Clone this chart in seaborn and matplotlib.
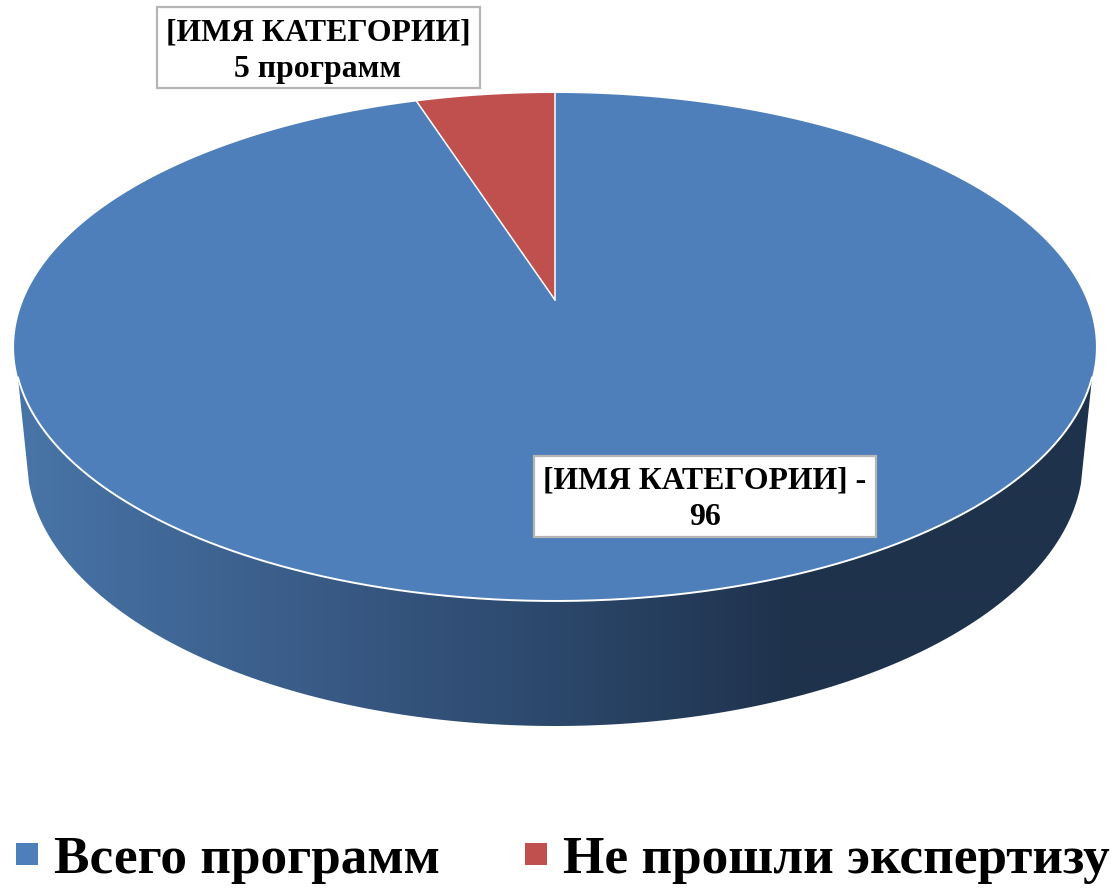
import numpy as np
import matplotlib
matplotlib.use("Agg")
import matplotlib.pyplot as plt
from matplotlib.patches import Polygon, Rectangle, Patch
import seaborn as sns

categories = ["Всего программ", "Не прошли экспертизу"]
values = [96, 5]
box_labels = ["[ИМЯ КАТЕГОРИИ] -\n96", "[ИМЯ КАТЕГОРИИ]\n5 программ"]
colors = ["#4f7fba", "#bf504e"]
side_stops = ["#4875a8", "#3a5c88", "#2c486c", "#1f324c", "#1f324c"]
side_stop_x = [15, 300, 550, 790, 1100]

W, H = 1117, 888
sns.set_theme(style="white")
plt.rcParams["font.family"] = ["Liberation Serif", "DejaVu Serif"]
plt.rcParams["font.weight"] = "bold"

fig = plt.figure(figsize=(W / 100, H / 100), dpi=100)
ax = fig.add_axes([0, 0, 1, 1])
ax.set_xlim(0, W)
ax.set_ylim(H, 0)
ax.axis("off")

# perspective projection of the unit disc onto the page
K, A, APEX_Y, C, CX = 0.185, -189.8, 300.0, 531.6, 555.0


def project(theta):
    """theta: clockwise angle from 12 o'clock, radians."""
    u, v = np.sin(theta), np.cos(theta)
    w = 1 + K * v
    return CX + C * u / w, (A * v + APEX_Y) / w


# wedge angles come from the values; the red slice ends at 12 o'clock
total = sum(values)
red_sweep = 2 * np.pi * values[1] / total
t_blue = np.linspace(0, 2 * np.pi - red_sweep, 500)
t_red = np.linspace(2 * np.pi - red_sweep, 2 * np.pi, 60)
bx, by = project(t_blue)
rx, ry = project(t_red)

# side wall: front part of the top rim + lower rim
t_all = np.linspace(0, 2 * np.pi, 2000)
ax_all, ay_all = project(t_all)
front = (ay_all >= 377)
fx, fy = ax_all[front], ay_all[front]
order = np.argsort(fx)
fx, fy = fx[order], fy[order]
phi = np.linspace(np.radians(5), np.radians(175), 300)
low_x = 555 + 528 * np.cos(phi)
low_y = 460 + 266 * np.sin(phi)
wall = np.vstack([np.column_stack([fx, fy]),
                  np.column_stack([low_x, low_y])])
wall_patch = Polygon(wall, closed=True, facecolor="none", edgecolor="none")
ax.add_patch(wall_patch)

xs = np.arange(0, W)
rgb = np.array([matplotlib.colors.to_rgb(c) for c in side_stops])
grad = np.stack([np.interp(xs, side_stop_x, rgb[:, i]) for i in range(3)], axis=-1)[None, :, :]
im = ax.imshow(grad, extent=(0, W, 760, 360), aspect="auto", interpolation="bilinear", zorder=1)
im.set_clip_path(wall_patch)
ax.set_xlim(0, W)
ax.set_ylim(H, 0)

# top face
ax.add_patch(Polygon(np.vstack([[CX, APEX_Y], np.column_stack([bx, by])]), closed=True,
                     facecolor=colors[0], edgecolor="none", zorder=2))
ax.add_patch(Polygon(np.vstack([[CX, APEX_Y], np.column_stack([rx, ry])]), closed=True,
                     facecolor=colors[1], edgecolor="none", zorder=3))
# white seams
ax.plot(fx, fy, color="white", lw=1.4, zorder=4)
for th in (0, 2 * np.pi - red_sweep):
    px, py = project(np.array([th]))
    ax.plot([CX, px[0]], [APEX_Y, py[0]], color="white", lw=1.1, zorder=4)

# label boxes
boxes = [(533.5, 455.5, 342, 81, 704.5, 499), (156.5, 7.5, 323, 81, 318, 51)]
for (x0, y0, w, h, tx, ty), lab in zip(boxes, box_labels):
    ax.add_patch(Rectangle((x0, y0), w, h, facecolor="white", edgecolor="#b5b5b5", lw=1.6, zorder=5))
    ax.text(tx, ty, lab, ha="center", va="center", fontsize=22.9, fontweight="bold",
            color="black", linespacing=1.36, zorder=6)

# legend
handles = [Patch(facecolor=c, edgecolor="none") for c in colors]
ax.legend(handles, categories, ncol=2, frameon=False, loc="lower left",
          bbox_to_anchor=(16 / W, 4 / H), bbox_transform=fig.transFigure,
          prop={"family": "Liberation Serif", "weight": "bold", "size": 38.3},
          handlelength=0.413, handleheight=0.263, handletextpad=0.3,
          columnspacing=1.6, borderpad=0, borderaxespad=0, labelcolor="black")

fig.savefig("out.png", dpi=100, facecolor="white")
